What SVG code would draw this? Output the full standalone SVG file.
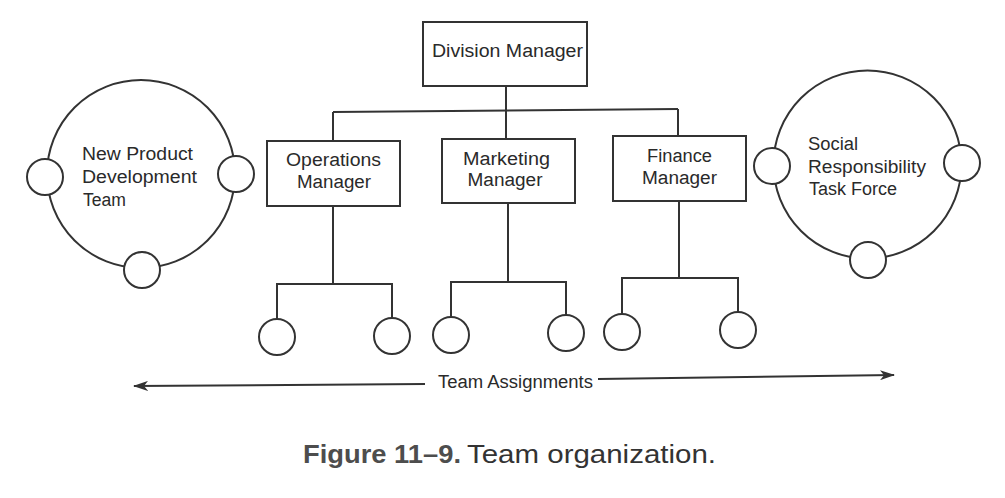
<svg xmlns="http://www.w3.org/2000/svg" width="1005" height="498" viewBox="0 0 1005 498">
<defs>
<style>
.box{fill:#fff;stroke:#333;stroke-width:2}
.c{fill:#fff;stroke:#333;stroke-width:2}
.big{fill:none;stroke:#333;stroke-width:2}
.ln{fill:none;stroke:#333;stroke-width:2}
.t{font-family:"Liberation Sans",Arial,sans-serif;font-size:18px;fill:#2a2a2a}
.tc{text-anchor:middle}
.cap{font-family:"Liberation Sans",Arial,sans-serif;font-size:25px}
</style>
<marker id="ah" viewBox="0 0 15 10" refX="14" refY="5" markerWidth="15" markerHeight="10" markerUnits="userSpaceOnUse" orient="auto-start-reverse">
<path d="M0,0 L15,5 L0,10 L4,5 z" fill="#333"/>
</marker>
</defs>
<rect width="1005" height="498" fill="#fff"/>

<g id="connectors">
<path class="ln" d="M506,86 V111"/>
<path class="ln" d="M333,112 L678,109"/>
<path class="ln" d="M333,112 V141"/>
<path class="ln" d="M506,110 V139"/>
<path class="ln" d="M678,109 V136"/>
<path class="ln" d="M333,206 V284"/>
<path class="ln" d="M277,319 V284 H392 V318"/>
<path class="ln" d="M508,203 V282"/>
<path class="ln" d="M451,317 V282 H566 V315"/>
<path class="ln" d="M679,201 V278"/>
<path class="ln" d="M622,314 V278 H738 V312"/>
</g>

<g id="division-manager">
<rect class="box" x="423" y="22" width="164" height="64"/>
<text class="t" x="432" y="57" textLength="151" lengthAdjust="spacingAndGlyphs">Division Manager</text>
</g>

<g id="operations-manager">
<rect class="box" x="267" y="141" width="133" height="65"/>
<text class="t tc" x="333.5" y="166" textLength="95" lengthAdjust="spacingAndGlyphs">Operations</text>
<text class="t tc" x="334" y="188" textLength="74" lengthAdjust="spacingAndGlyphs">Manager</text>
</g>

<g id="marketing-manager">
<rect class="box" x="442" y="139" width="133" height="64"/>
<text class="t tc" x="506.5" y="165" textLength="87" lengthAdjust="spacingAndGlyphs">Marketing</text>
<text class="t tc" x="505" y="186" textLength="75" lengthAdjust="spacingAndGlyphs">Manager</text>
</g>

<g id="finance-manager">
<rect class="box" x="613" y="136" width="133" height="65"/>
<text class="t tc" x="679.5" y="162" textLength="65" lengthAdjust="spacingAndGlyphs">Finance</text>
<text class="t tc" x="679.5" y="184" textLength="75" lengthAdjust="spacingAndGlyphs">Manager</text>
</g>

<g id="ops-team-1"><circle class="c" cx="277" cy="337" r="18"/></g>
<g id="ops-team-2"><circle class="c" cx="392" cy="336" r="18"/></g>
<g id="mkt-team-1"><circle class="c" cx="451" cy="335" r="18"/></g>
<g id="mkt-team-2"><circle class="c" cx="566" cy="333" r="18"/></g>
<g id="fin-team-1"><circle class="c" cx="622" cy="332" r="18"/></g>
<g id="fin-team-2"><circle class="c" cx="738" cy="330" r="18"/></g>

<g id="new-product-team">
<circle class="big" cx="141" cy="174" r="94"/>
<circle class="c" cx="45" cy="177" r="18"/>
<circle class="c" cx="236" cy="174" r="18"/>
<circle class="c" cx="142" cy="270" r="18"/>
<text class="t" x="82" y="160" textLength="111" lengthAdjust="spacingAndGlyphs">New Product</text>
<text class="t" x="82" y="183" textLength="115" lengthAdjust="spacingAndGlyphs">Development</text>
<text class="t" x="83" y="206" textLength="43" lengthAdjust="spacingAndGlyphs">Team</text>
</g>

<g id="social-responsibility-task-force">
<circle class="big" cx="867.5" cy="164.5" r="94"/>
<circle class="c" cx="772" cy="166" r="18"/>
<circle class="c" cx="962" cy="163" r="18"/>
<circle class="c" cx="868" cy="260" r="18"/>
<text class="t" x="808" y="150" textLength="50" lengthAdjust="spacingAndGlyphs">Social</text>
<text class="t" x="808" y="173" textLength="118" lengthAdjust="spacingAndGlyphs">Responsibility</text>
<text class="t" x="809" y="195" textLength="88" lengthAdjust="spacingAndGlyphs">Task Force</text>
</g>

<g id="team-assignments">
<path class="ln" d="M134,386 L425,384" stroke-width="1.5" marker-start="url(#ah)"/>
<path class="ln" d="M598,379 L894,375" stroke-width="1.5" marker-end="url(#ah)"/>
<text class="t" x="438" y="388" font-size="17" textLength="155" lengthAdjust="spacingAndGlyphs">Team Assignments</text>
</g>

<g id="caption">
<text class="cap" x="303" y="463"><tspan font-weight="bold" fill="#4d4d4d" textLength="158" lengthAdjust="spacingAndGlyphs">Figure 11–9.</tspan><tspan x="467" fill="#333" textLength="249" lengthAdjust="spacingAndGlyphs">Team organization.</tspan></text>
</g>
</svg>
